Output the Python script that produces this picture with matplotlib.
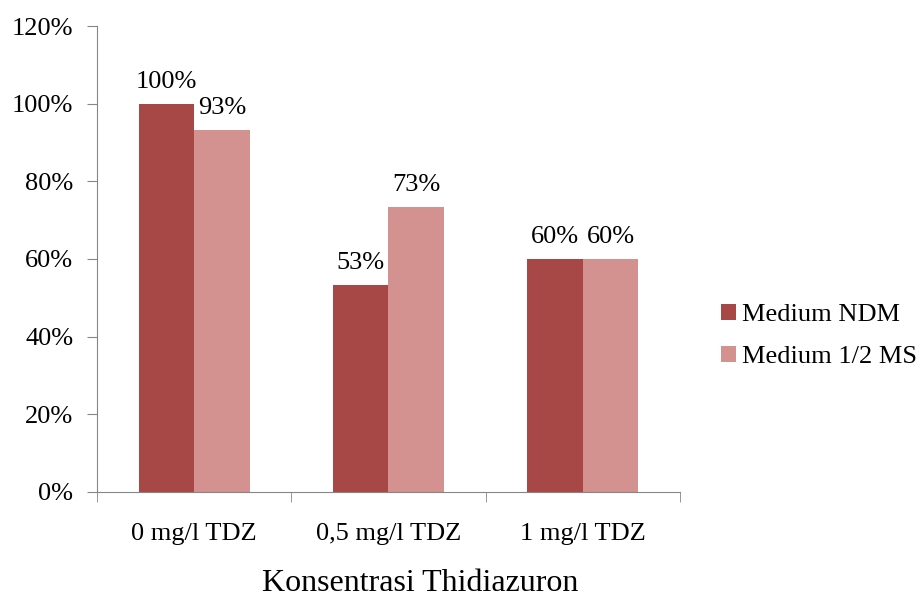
import numpy as np
import matplotlib.pyplot as plt
from matplotlib.ticker import FuncFormatter

categories = ['0 mg/l TDZ', '0,5 mg/l TDZ', '1 mg/l TDZ']
ndm = [100.0, 53.3, 60.0]
half_ms = [93.3, 73.3, 60.0]
series_names = ['Medium NDM', 'Medium 1/2 MS']
colors = ['#A84846', '#D39190']

plt.rcParams['font.family'] = ['Liberation Serif', 'DejaVu Serif']

fig = plt.figure(figsize=(9.18, 5.98), dpi=100)
ax = fig.add_axes([0.1057, 0.1773, 0.635, 0.7792])

x = np.arange(len(categories))
w = 0.285
b1 = ax.bar(x - w / 2, ndm, w, color=colors[0], label=series_names[0])
b2 = ax.bar(x + w / 2, half_ms, w, color=colors[1], label=series_names[1])

for bars, vals in ((b1, ndm), (b2, half_ms)):
    for r, v in zip(bars, vals):
        ax.annotate(f'{v:.0f}%', (r.get_x() + r.get_width() / 2, v),
                    xytext=(0, 8), textcoords='offset points',
                    ha='center', va='bottom', fontsize=19)

ax.set_xlim(-0.5, 2.5)
ax.set_ylim(0, 120)
ax.set_yticks(np.arange(0, 121, 20))
ax.yaxis.set_major_formatter(FuncFormatter(lambda v, p: f'{v:.0f}%'))
ax.set_xticks(x)
ax.set_xticklabels(categories)
ax.set_xticks([-0.5, 0.5, 1.5, 2.5], minor=True)
ax.tick_params(axis='x', which='major', length=0, pad=22, labelsize=19)
ax.tick_params(axis='x', which='minor', length=7, color='#868686', direction='out')
ax.tick_params(axis='y', length=7, color='#868686', labelsize=19, pad=10)

for s in ('top', 'right'):
    ax.spines[s].set_visible(False)
for s in ('left', 'bottom'):
    ax.spines[s].set_color('#868686')

ax.set_xlabel('Konsentrasi Thidiazuron', fontsize=23)
ax.xaxis.set_label_coords(0.554, -0.166)

ax.legend(loc='center left', bbox_to_anchor=(1.03, 0.335), frameon=False,
          fontsize=19, handlelength=0.55, handleheight=0.55, handletextpad=0.25,
          labelspacing=0.75)

fig.savefig('out.png', dpi=100)
